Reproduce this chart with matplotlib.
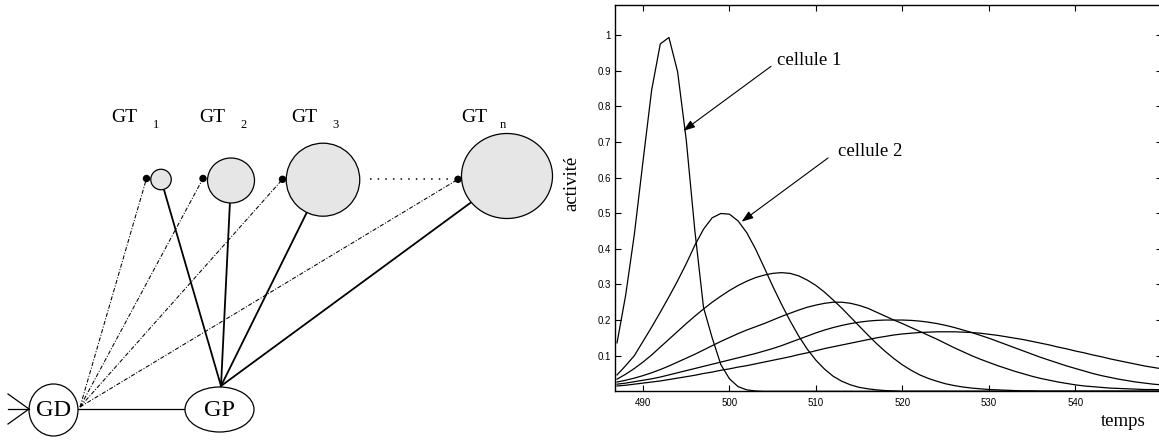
import numpy as np
import matplotlib
matplotlib.use('Agg')
import matplotlib.pyplot as plt
from matplotlib.patches import Ellipse, Circle

# data
temps_c1 = [487, 488, 489, 490, 491, 492, 493, 494, 495, 496, 497, 498, 499, 500, 501, 502, 503, 504, 550]
cellule1 = [0.136, 0.27, 0.44, 0.645, 0.845, 0.975, 0.993, 0.897, 0.706, 0.45, 0.235, 0.15, 0.075, 0.035, 0.013, 0.004, 0.001, 0.0, 0.0]

temps = list(range(487, 551))
cellule2 = [0.046, 0.072, 0.10, 0.14, 0.18, 0.222, 0.265, 0.31, 0.358, 0.41,
            0.455, 0.487, 0.499, 0.497, 0.478, 0.445, 0.40, 0.348, 0.295, 0.245,
            0.198, 0.155, 0.118, 0.087, 0.062, 0.042, 0.028, 0.018, 0.011, 0.007,
            0.004, 0.002, 0.001, 0.0, 0.0, 0.0, 0.0, 0.0, 0.0, 0.0,
            0.0, 0.0, 0.0, 0.0, 0.0, 0.0, 0.0, 0.0, 0.0, 0.0,
            0.0, 0.0, 0.0, 0.0, 0.0, 0.0, 0.0, 0.0, 0.0, 0.0,
            0.0, 0.0, 0.0, 0.0]
cellule3 = [0.034, 0.048, 0.064, 0.082, 0.102, 0.124, 0.146, 0.168, 0.19, 0.211,
            0.231, 0.25, 0.267, 0.283, 0.297, 0.309, 0.319, 0.326, 0.331, 0.333,
            0.331, 0.324, 0.312, 0.297, 0.278, 0.256, 0.233, 0.208, 0.183, 0.158,
            0.134, 0.112, 0.092, 0.074, 0.059, 0.046, 0.036, 0.028, 0.021, 0.016,
            0.012, 0.009, 0.007, 0.005, 0.004, 0.003, 0.002, 0.001, 0.001, 0.0,
            0.0, 0.0, 0.0, 0.0, 0.0, 0.0, 0.0, 0.0, 0.0, 0.0,
            0.0, 0.0, 0.0, 0.0]
cellule4 = [0.026, 0.031, 0.037, 0.044, 0.052, 0.061, 0.071, 0.082, 0.093, 0.104,
            0.116, 0.128, 0.14, 0.151, 0.162, 0.172, 0.181, 0.19, 0.2, 0.21,
            0.219, 0.228, 0.236, 0.242, 0.247, 0.25, 0.25, 0.247, 0.241, 0.233,
            0.222, 0.211, 0.2, 0.19, 0.179, 0.168, 0.157, 0.146, 0.134, 0.122,
            0.111, 0.1, 0.09, 0.081, 0.072, 0.064, 0.056, 0.049, 0.042, 0.036,
            0.031, 0.026, 0.022, 0.018, 0.015, 0.013, 0.011, 0.009, 0.008, 0.007,
            0.006, 0.005, 0.005, 0.004]
cellule5 = [0.02, 0.023, 0.027, 0.031, 0.035, 0.04, 0.046, 0.052, 0.058, 0.064,
            0.07, 0.076, 0.082, 0.088, 0.094, 0.1, 0.106, 0.113, 0.12, 0.128,
            0.137, 0.146, 0.155, 0.164, 0.172, 0.179, 0.185, 0.19, 0.194, 0.197,
            0.199, 0.2, 0.2, 0.2, 0.199, 0.197, 0.194, 0.19, 0.185, 0.179,
            0.172, 0.165, 0.157, 0.149, 0.14, 0.131, 0.122, 0.113, 0.104, 0.095,
            0.087, 0.079, 0.071, 0.064, 0.057, 0.05, 0.044, 0.039, 0.034, 0.03,
            0.026, 0.023, 0.02, 0.018]
cellule6 = [0.015, 0.017, 0.02, 0.023, 0.026, 0.029, 0.033, 0.037, 0.041, 0.045,
            0.05, 0.054, 0.059, 0.063, 0.068, 0.072, 0.077, 0.082, 0.087, 0.092,
            0.097, 0.103, 0.108, 0.114, 0.12, 0.125, 0.13, 0.135, 0.14, 0.145,
            0.15, 0.154, 0.158, 0.161, 0.163, 0.165, 0.166, 0.167, 0.167, 0.167,
            0.166, 0.165, 0.163, 0.16, 0.157, 0.153, 0.149, 0.145, 0.14, 0.135,
            0.13, 0.124, 0.119, 0.113, 0.108, 0.102, 0.097, 0.091, 0.086, 0.081,
            0.076, 0.071, 0.067, 0.063]

xticks = [490, 500, 510, 520, 530, 540]
yticks = [0.1, 0.2, 0.3, 0.4, 0.5, 0.6, 0.7, 0.8, 0.9, 1.0]
ytick_labels = ['0.1', '0.2', '0.3', '0.4', '0.5', '0.6', '0.7', '0.8', '0.9', '1']

# diagram nodes (pixel coords of the figure, y downwards)
gt_labels = ['1', '2', '3', 'n']
gt_centers = [(161, 179.5), (231, 180.5), (323, 179.7), (507, 176)]
gt_sizes = [(20.5, 20.5), (47, 45), (73.5, 73), (91, 85)]
gt_dots = [(146.5, 178.5), (203, 178.5), (282.5, 179.3), (458, 179.3)]
gt_label_x = [111.5, 199, 291, 461]
gd_center = (53.5, 410)
gp_center = (219.5, 409.5)
gp_top = (221, 386)

W, H = 1159, 441
fig = plt.figure(figsize=(W / 100, H / 100), dpi=100)
serif = 'Liberation Serif'

# ---- left : schematic ----
ax0 = fig.add_axes([0, 0, 1, 1])
ax0.set_xlim(0, W)
ax0.set_ylim(H, 0)
ax0.axis('off')

dashdot = (0, (4, 1.6, 1, 1.6))
for (cx, cy), (w, h), (dx, dy) in zip(gt_centers, gt_sizes, gt_dots):
    ax0.plot([gp_top[0], cx], [gp_top[1], cy], color='k', lw=1.3, zorder=1)
    ax0.plot([80, dx], [407, dy], color='k', lw=0.75, linestyle=dashdot, zorder=1)
    ax0.add_patch(Ellipse((cx, cy), w, h, facecolor='#e6e6e6', edgecolor='k', lw=0.9, zorder=2))
    ax0.add_patch(Circle((dx, dy), 3, facecolor='k', edgecolor='k', zorder=3))

# dotted link between GT3 and GTn
ax0.plot([370, 452], [179.3, 179.3], color='k', lw=1.1, linestyle=(0, (1, 4)))

for lab, lx in zip(gt_labels, gt_label_x):
    ax0.text(lx, 118, 'GT', family=serif, fontsize=14, ha='left', va='center')
    sub_x = lx + (41 if lab != 'n' else 39)
    ax0.text(sub_x, 125, lab, family=serif, fontsize=9, ha='left', va='center')

ax0.add_patch(Ellipse(gd_center, 49, 52, facecolor='white', edgecolor='k', lw=0.9, zorder=2))
ax0.add_patch(Ellipse(gp_center, 69, 45, facecolor='white', edgecolor='k', lw=0.9, zorder=2))
ax0.text(gd_center[0], gd_center[1] + 1, 'GD', family=serif, fontsize=17.5, ha='center', va='center', zorder=3)
ax0.text(gp_center[0], gp_center[1] + 1, 'GP', family=serif, fontsize=17.5, ha='center', va='center', zorder=3)
ax0.plot([78, 185], [409, 409], color='k', lw=0.9, zorder=1)
for y0 in [394, 409, 424]:
    ax0.plot([8, 29], [y0, 409], color='k', lw=0.9)

# ---- right : activity curves ----
ax = fig.add_axes([615.3 / W, 1 - 391.3 / H, 546.7 / W, 386.6 / H])
ax.patch.set_alpha(0)
ax.plot(temps_c1, cellule1, color='k', lw=0.9)
for vals in [cellule2, cellule3, cellule4, cellule5, cellule6]:
    ax.plot(temps, vals, color='k', lw=0.9)

ax.set_xlim(486.8, 550)
ax.set_ylim(0, 1.085)
ax.set_xticks(xticks)
ax.set_xticklabels([str(x) for x in xticks])
ax.set_yticks(yticks)
ax.set_yticklabels(ytick_labels)
ax.tick_params(direction='in', top=True, right=True, length=4, width=0.8,
               labelsize=7, pad=3)
ax.tick_params(axis='x', pad=5)
for lab in ax.get_xticklabels() + ax.get_yticklabels():
    lab.set_family('Liberation Sans')
for sp in ax.spines.values():
    sp.set_linewidth(1.0)

arrow = dict(arrowstyle='-|>,head_length=0.7,head_width=0.25', color='k', lw=0.8,
             shrinkA=0, shrinkB=0, mutation_scale=10)
ax.annotate('', xy=(494.66, 0.731), xytext=(504.8, 0.912), arrowprops=arrow)
ax.annotate('', xy=(501.4, 0.476), xytext=(511.4, 0.655), arrowprops=arrow)
ax.text(505.5, 0.928, 'cellule 1', family=serif, fontsize=13.5, ha='left', va='center')
ax.text(512.5, 0.672, 'cellule 2', family=serif, fontsize=13.5, ha='left', va='center')

fig.text(572 / W, 1 - 183 / H, 'activité', family=serif, fontsize=13.5, rotation=90,
         ha='center', va='center')
fig.text(1123 / W, 1 - 422 / H, 'temps', family=serif, fontsize=13.5, ha='center', va='center')

fig.savefig('out.png', dpi=100)
